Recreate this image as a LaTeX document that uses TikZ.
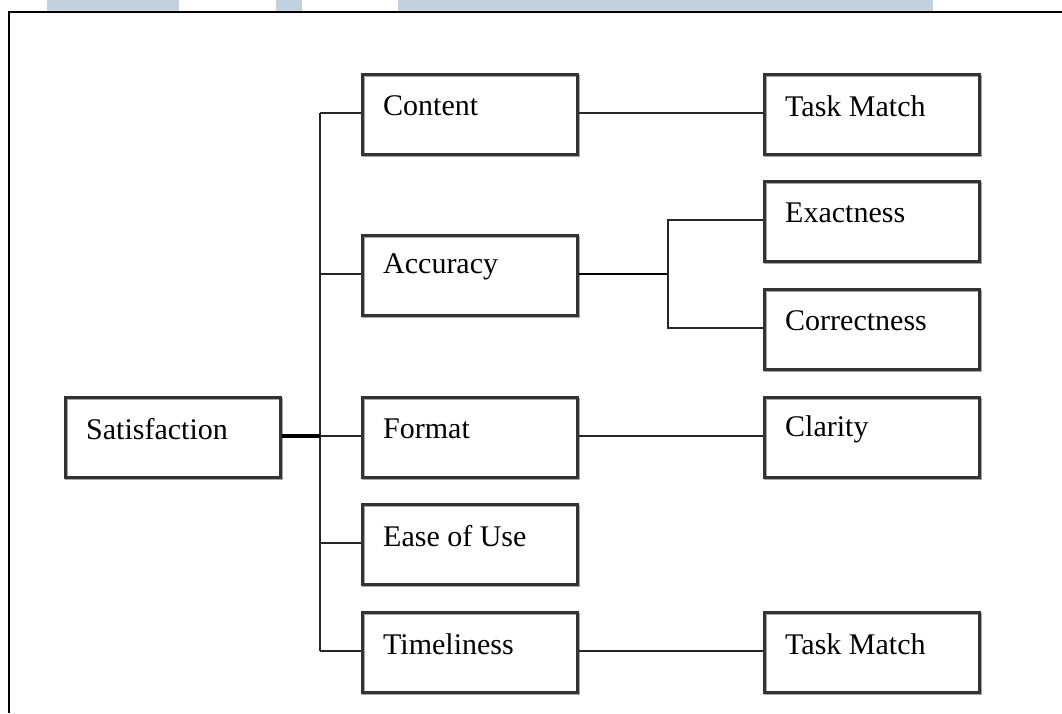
\documentclass[tikz,border=0pt]{standalone}
\usepackage{fontspec}
\setmainfont{Liberation Serif}
\definecolor{band}{HTML}{C1D1DE}
\begin{document}
\begin{tikzpicture}[x=1pt,y=-1pt,
  box/.style={draw=black!80,line width=2.6pt,minimum width=215pt,minimum height=80pt,inner sep=0pt,anchor=north west,
    preaction={draw=black!35,line width=2.6pt,transform canvas={shift={(1pt,-1.5pt)}}}},
  lbl/.style={anchor=west,inner sep=0pt,font=\fontsize{30pt}{32pt}\selectfont},
  conn/.style={draw=black!85,line width=2.6pt},
  frame/.style={draw=black,line width=2.8pt}]
\useasboundingbox (0,0) rectangle (1062,713);
\fill[white] (0,0) rectangle (1062,713);
% top bands
\fill[band] (47,0) rectangle (179,11);
\fill[band] (276,0) rectangle (302,11);
\fill[band] (398,0) rectangle (933,11);
% frame
\coordinate (fA) at (9,713);
\coordinate (fB) at (9,12);
\coordinate (fC) at (1062,12);
\draw[frame] (fA) -- (fB) -- (fC);
% boxes
\node[box] (sat) at (64,396) {};
\node[box] (con) at (361,73) {};
\node[box] (acc) at (361,234) {};
\node[box] (fmt) at (361,396) {};
\node[box] (ease) at (361,503) {};
\node[box] (time) at (361,611) {};
\node[box] (tm1) at (763,73) {};
\node[box] (exa) at (763,180) {};
\node[box] (cor) at (763,288) {};
\node[box] (cla) at (763,396) {};
\node[box] (tm2) at (763,611) {};
% labels
\foreach \n/\t in {sat/Satisfaction,con/Content,acc/Accuracy,fmt/Format,ease/Ease of Use,time/Timeliness,tm1/Task Match,exa/Exactness,cor/Correctness,cla/Clarity,tm2/Task Match}
  \node[lbl] (\n-t) at ([xshift=22pt,yshift=-33pt]\n.north west) {\t};
% trunk
\coordinate (tTop) at (320,113);
\coordinate (tBot) at (320,651);
\coordinate (tMid) at (320,436);
\draw[conn] (tTop) -- (tBot);
\draw[conn,line width=3.6pt,draw=black] (sat.east |- tMid) -- (tMid);
\draw[conn] (tTop) -- (con.west |- tTop);
\draw[conn] (320,274) -- (acc.west |- 0,274);
\draw[conn] (tMid) -- (fmt.west |- tMid);
\draw[conn] (320,543) -- (ease.west |- 0,543);
\draw[conn] (320,651) -- (time.west |- 0,651);
% right side
\draw[conn] (con.east |- 0,113) -- (tm1.west |- 0,113);
\coordinate (aj) at (668,274);
\draw[conn,draw=black] (acc.east |- aj) -- (aj);
\draw[conn] (exa.west |- 0,220) -- (668,220) -- (668,328) -- (cor.west |- 0,328);
\draw[conn] (fmt.east |- tMid) -- (cla.west |- tMid);
\draw[conn] (time.east |- 0,651) -- (tm2.west |- 0,651);
\end{tikzpicture}
\end{document}
